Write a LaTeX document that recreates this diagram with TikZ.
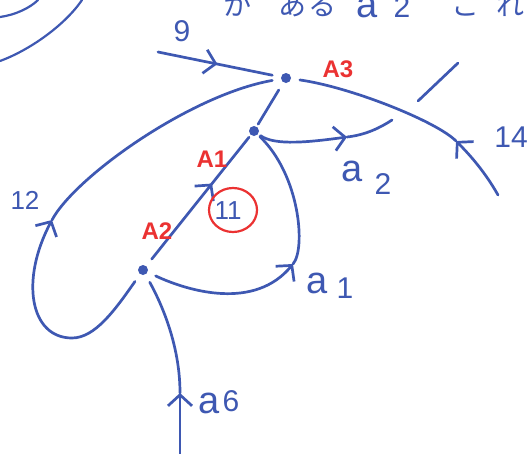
\documentclass[tikz,border=0pt]{standalone}
\usepackage{fontspec}
\setmainfont{Liberation Sans}
\newfontfamily\jpfont{Noto Sans CJK JP}
\usetikzlibrary{arrows.meta,decorations.markings,shapes.geometric}
\definecolor{ink}{RGB}{62,88,178}
\definecolor{redink}{RGB}{235,50,50}
\begin{document}
\begin{tikzpicture}[x=1pt,y=-1pt,
  stroke/.style={draw=ink,line width=2.7pt,line cap=round,line join=round},
  barb/.style={-{Straight Barb[length=11pt,width=24pt]}},
  midbarb/.style={postaction={decorate},decoration={markings,mark=at position #1 with {\arrow{Straight Barb[length=11pt,width=24pt]}}}},
  vtx/.style={circle,fill=ink,inner sep=0pt,minimum size=10pt,outer sep=#1},
  vtx/.default=4pt,
  num/.style={text=ink,font=\fontsize{30}{30}\selectfont,inner sep=0pt},
  let/.style={text=ink,font=\fontsize{38}{38}\selectfont,inner sep=0pt},
  rlbl/.style={text=redink,font=\bfseries\fontsize{24}{24}\selectfont,inner sep=0pt},
  jp/.style={text=ink,font=\jpfont\fontsize{28}{28}\selectfont,inner sep=0pt,anchor=base}]
\useasboundingbox (0,0) rectangle (529,453);
\fill[white] (0,0) rectangle (529,453);
\clip (0,0) rectangle (529,453);

% top-left arcs
\draw[stroke,line width=2.2pt] (0,61) .. controls (30,50) and (65,25) .. (82,0);
\draw[stroke,line width=2.2pt] (0,17) .. controls (15,15) and (30,8) .. (38,0);

% top (cut-off) handwriting
\node[jp] (t1) at (237,15) {か};
\node[jp] (t2) at (292,15) {あ};
\node[jp] (t3) at (322,15) {る};
\node[let,anchor=base] (t4) at (367,17) {a};
\node[num,anchor=base] (t5) at (402,17) {2};
\node[jp] (t6) at (465,15) {こ};
\node[jp] (t7) at (510,15) {れ};

% vertices
\node[vtx=9pt] (A3) at (286,78) {};
\node[vtx=3pt] (A1) at (254,131) {};
\node[vtx=9pt] (A2) at (143,270) {};

% free ends and arrow points
\coordinate (e9) at (158,52);
\coordinate (k12) at (52,220);
\coordinate (e14) at (498,195);
\coordinate (k14) at (456,141);
\coordinate (k2) at (347,137);
\coordinate (e2) at (392,120);
\coordinate (k1) at (293,264);
\coordinate (e6) at (180,460);
\coordinate (k6) at (180,393);
\coordinate (s1) at (458,63);
\coordinate (s2) at (418,101);

% edges
\draw[stroke,midbarb=0.52] (e9) -- (A3);
\draw[stroke] (A3) -- (A1);
\draw[stroke,midbarb=0.62] (A2) -- (A1);
\draw[stroke,barb] (A2) .. controls (115,310) and (95,338) .. (72,338)
                        .. controls (30,338) and (20,280) .. (k12);
\draw[stroke] (k12) .. controls (75,177) and (190,95) .. (A3);
\draw[stroke,barb] (e14) .. controls (485,172) and (470,155) .. (k14);
\draw[stroke] (k14) .. controls (436,121) and (350,87) .. (A3);
\draw[stroke,barb] (A1) .. controls (275,146) and (310,142) .. (k2);
\draw[stroke] (k2) .. controls (365,135) and (380,128) .. (e2);
\draw[stroke,barb] (A2) .. controls (190,292) and (255,310) .. (k1);
\draw[stroke] (k1) .. controls (306,249) and (300,175) .. (A1);
\draw[stroke,barb] (e6) -- (k6);
\draw[stroke] (k6) .. controls (180,350) and (165,310) .. (A2);
\draw[stroke] (s1) -- (s2);

% labels
\node[num] (l9) at (182,31) {9};
\node[num,font=\fontsize{26}{26}\selectfont] (l12) at (25,200) {12};
\node[num] (l14) at (511,137) {14};
\node[let] (la2) at (352,171) {a};
\node[num] (n2) at (383,184) {2};
\node[let] (la1) at (317,283) {a};
\node[num] (n1) at (345,288) {1};
\node[let] (la6) at (209,403) {a};
\node[num] (n6) at (231,401) {6};

\node[rlbl] (lA3) at (338,69) {A3};
\node[rlbl] (lA1) at (212,159) {A1};
\node[rlbl] (lA2) at (157,231) {A2};

\node[draw=redink,line width=2.2pt,ellipse,minimum width=48pt,minimum height=44pt] (c11) at (233,210) {};
\node[num,font=\fontsize{26}{26}\selectfont] (n11) at (228,211) {11};
\end{tikzpicture}
\end{document}
